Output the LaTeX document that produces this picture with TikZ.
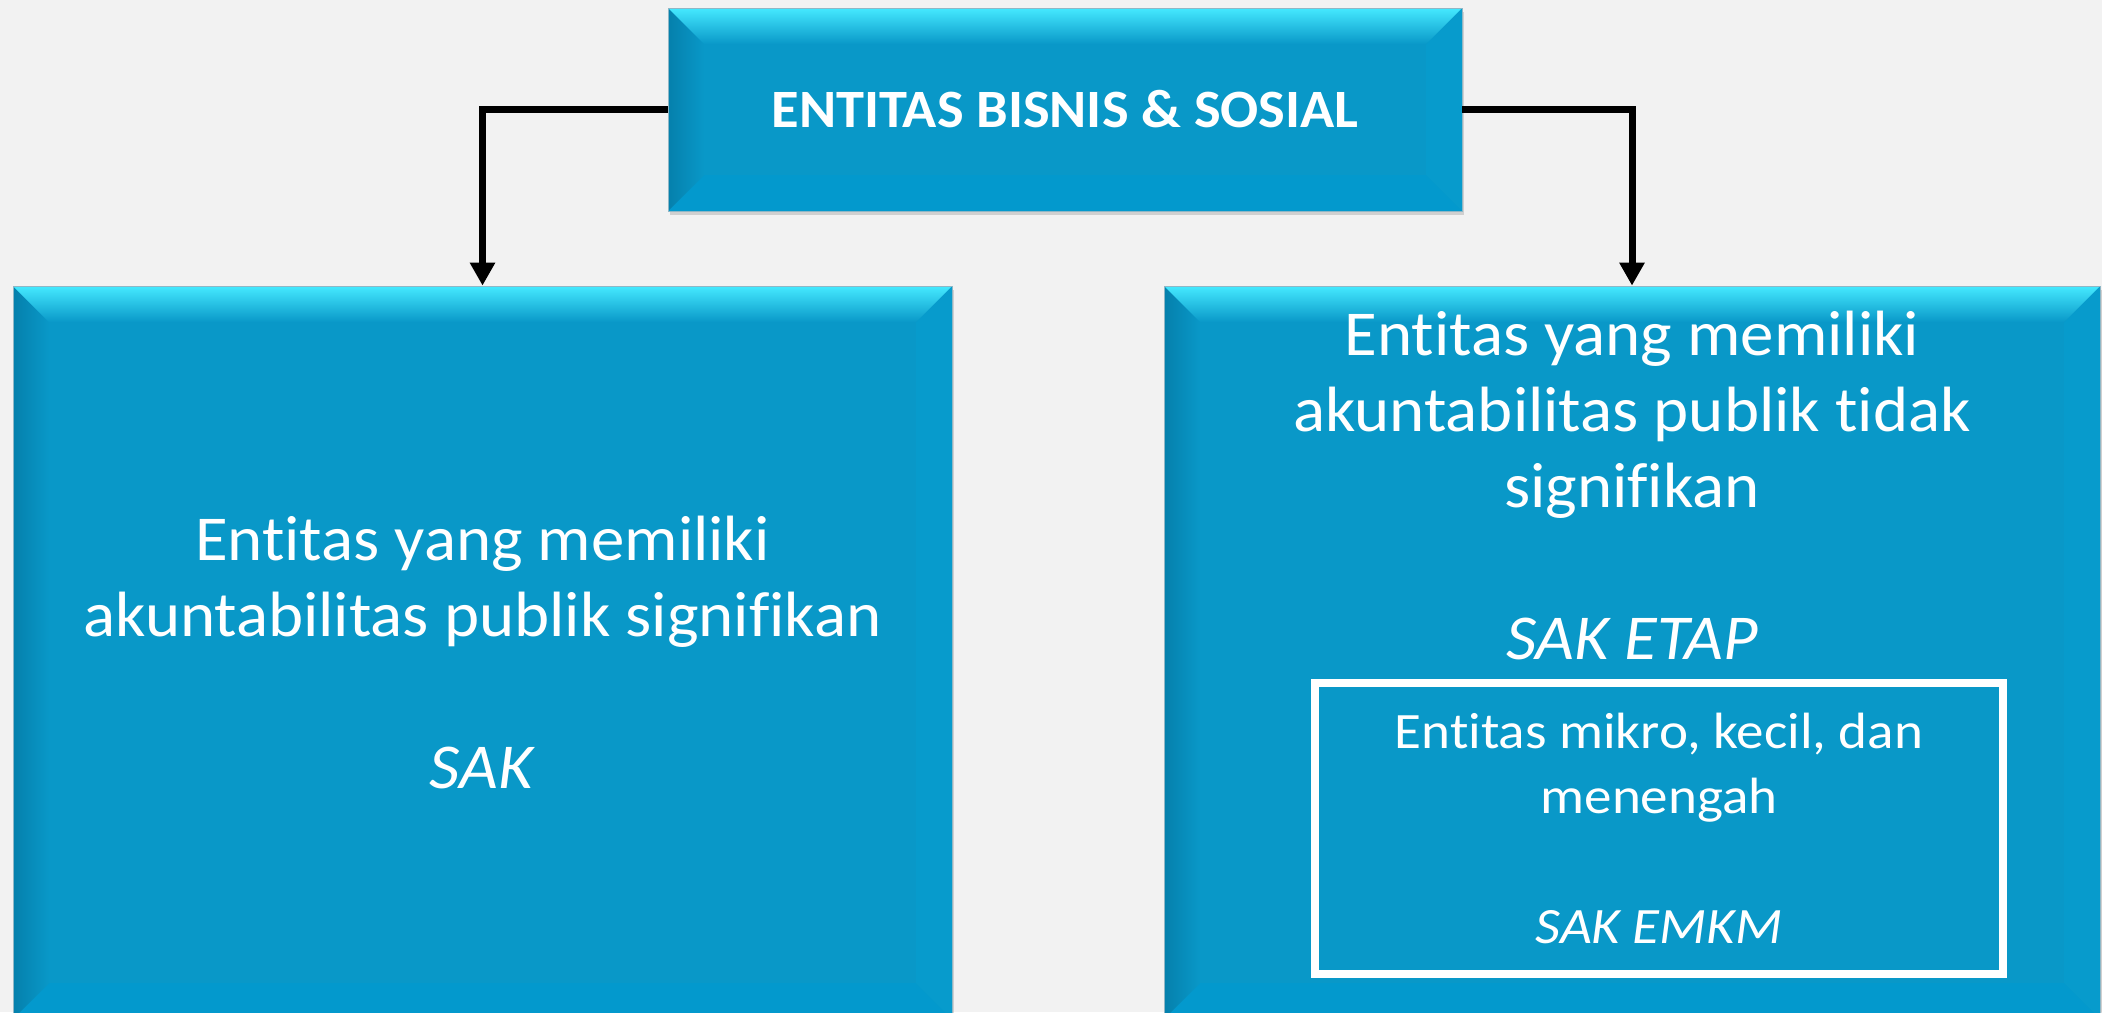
\documentclass[tikz,border=0pt]{standalone}
\usepackage{fontspec}
\setmainfont{Carlito}[FakeStretch=1.045, Ligatures=NoCommon]
\newfontfamily\innerfont{Carlito}[FakeStretch=1.08, Ligatures=NoCommon]
\usetikzlibrary{calc,arrows.meta,shadows}
\definecolor{bg}{HTML}{F2F2F2}
\definecolor{mainblue}{HTML}{0998C8}
\definecolor{bevtop}{HTML}{45E9FF}
\definecolor{bevtopmid}{HTML}{22C2F0}
\definecolor{bevleft}{HTML}{0580AC}
\definecolor{bevbot}{HTML}{0399CD}
\definecolor{bevright}{HTML}{079BCC}
\definecolor{edgegray}{HTML}{8FB7C6}
\tikzset{
  bevelbox/.style={rectangle, inner sep=0pt, fill=mainblue, text=white, align=center,
    draw=edgegray, line width=0.4pt,
    drop shadow={shadow xshift=1.2pt, shadow yshift=-2pt, opacity=0.2, fill=black!70},
    path picture={
      \coordinate (q1) at (path picture bounding box.north west);
      \coordinate (q2) at (path picture bounding box.north east);
      \coordinate (q3) at (path picture bounding box.south east);
      \coordinate (q4) at (path picture bounding box.south west);
      \fill[bevbot] (q4) -- (q3) -- ($(q3)+(-36,-36)$) -- ($(q4)+(36,-36)$) -- cycle;
      \fill[bevright] (q2) -- (q3) -- ($(q3)+(-36,-36)$) -- ($(q2)+(-36,36)$) -- cycle;
      \shade[left color=bevleft, right color=mainblue] (q1) -- ($(q1)+(36,36)$) -- ($(q4)+(36,-36)$) -- (q4) -- cycle;
      \shade[top color=bevtop, middle color=bevtopmid, bottom color=mainblue] (q1) -- (q2) -- ($(q2)+(-36,36)$) -- ($(q1)+(36,36)$) -- cycle;
    }},
  bigtext/.style={font=\fontsize{32}{38}\selectfont},
  smalltext/.style={font=\innerfont\fontsize{25.5}{32.5}\selectfont},
  titletext/.style={font=\fontsize{27}{32}\selectfont\bfseries},
  conn/.style={draw=black, line width=3.5pt, -{Triangle[width=12pt,length=11.5pt]}},
  innerbox/.style={rectangle, draw=white, line width=4pt, inner sep=0pt, text=white, align=center}
}
\begin{document}
\begin{tikzpicture}[x=0.5pt,y=-0.5pt]
\fill[bg] (0,0) rectangle (2102,1012);
\useasboundingbox (0,0) rectangle (2102,1012);
\clip (0,0) rectangle (2102,1012);
\node[bevelbox, titletext, minimum width=397pt, minimum height=101.5pt] (top) at (1065,109.5) {ENTITAS BISNIS \& SOSIAL};
\node[bevelbox, bigtext, minimum width=469.5pt, minimum height=366.5pt] (lbox) at (482.5,652.5)
  {Entitas yang memiliki\\ akuntabilitas publik signifikan\\[38pt] \textit{SAK}};
\node[bevelbox, minimum width=468pt, minimum height=366.5pt] (rbox) at (1632,652.5) {};
\node[bigtext, anchor=north, text=white, align=center, inner sep=0pt] (rtext) at (1632,311)
  {Entitas yang memiliki\\ akuntabilitas publik tidak\\ signifikan\\[38pt] \textit{SAK ETAP}};
\node[innerbox, smalltext, minimum width=344pt, minimum height=145.5pt] (inner) at (1659,828.5)
  {Entitas mikro, kecil, dan\\ menengah\\[32.5pt] \textit{SAK EMKM}};
\draw[conn] (top.west) -| (lbox.north);
\draw[conn] (top.east) -| (rbox.north);
\end{tikzpicture}
\end{document}
